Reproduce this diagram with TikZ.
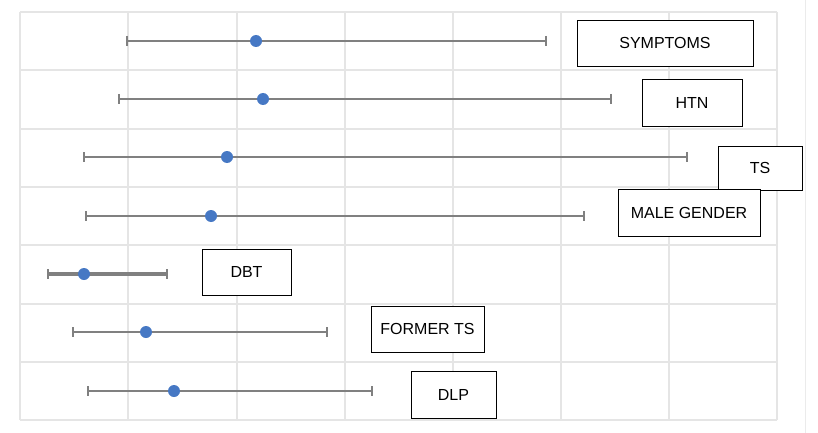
\documentclass[tikz,border=0pt]{standalone}
\usepackage{fontspec}
\setmainfont{Liberation Sans}
\definecolor{dotc}{RGB}{70,120,196}
\begin{document}
\begin{tikzpicture}[x=1pt,y=-1pt,
  grid/.style={draw=black!10,line width=1.2pt},
  bar/.style={draw=black!50,line width=1.6pt},
  whisk/.style={draw=black!50,line width=1.4pt},
  pt/.style={circle,fill=dotc,inner sep=0pt,minimum size=12pt},
  lab/.style={draw=black,line width=0.9pt,fill=white,inner sep=0pt,font=\fontsize{16}{18}\selectfont}]
\useasboundingbox (0,0) rectangle (818,433);
\foreach \x in {20,128,237,345,453,561,669,777} \draw[grid] (\x,12) -- (\x,420);
\foreach \y in {12,70,129,187,245,304,362,420} \draw[grid] (20,\y) -- (777,\y);
\draw[draw=black!8,line width=1pt] (805,0) -- (805,433);
\foreach \n/\y/\lo/\d/\hi/\w in {a/41/127/256/546/1.6, b/99/119/263/611/1.6, c/157/84/227/687/1.6, d/216/86/211/584/1.6, e/274/48/84/167/3.2, f/332/73/146/327/1.6, g/391/88/174/372/1.6}{
  \coordinate (lo\n) at (\lo,\y);
  \coordinate (hi\n) at (\hi,\y);
  \draw[bar,line width=\w pt] (lo\n) -- (hi\n);
  \draw[whisk] (\lo,\y-5) -- (\lo,\y+5);
  \draw[whisk] (\hi,\y-5) -- (\hi,\y+5);
  \node[pt] (p\n) at (\d,\y) {};
}
\node[lab,minimum width=176pt,minimum height=46pt] (la) at (665,43) {SYMPTOMS};
\node[lab,minimum width=100pt,minimum height=47pt] (lb) at (692,102.5) {HTN};
\node[lab,minimum width=84pt,minimum height=44pt] (lc) at (760,168) {TS};
\node[lab,minimum width=142pt,minimum height=47pt] (ld) at (689,212.5) {MALE GENDER};
\node[lab,minimum width=89pt,minimum height=46pt] (le) at (246.5,272) {DBT};
\node[lab,minimum width=113pt,minimum height=46pt] (lf) at (427.5,329) {FORMER TS};
\node[lab,minimum width=85pt,minimum height=47pt] (lg) at (453.5,394.5) {DLP};
\end{tikzpicture}
\end{document}
